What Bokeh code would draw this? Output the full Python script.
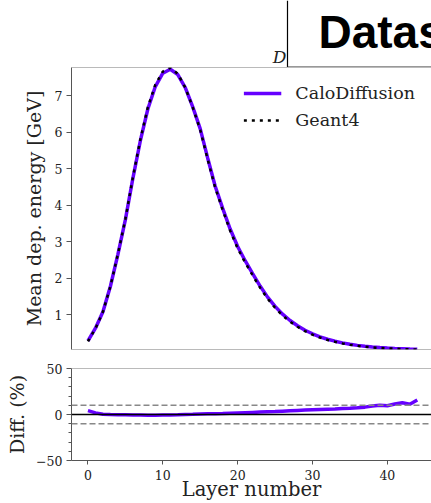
from bokeh.plotting import figure
from bokeh.layouts import column
from bokeh.models import (Range1d, FixedTicker, Span, Legend, LegendItem,
                          ColumnDataSource)
from bokeh.embed import file_html
from bokeh.resources import INLINE
from bokeh.core.properties import value

# ---------------- data ----------------
layers = list(range(45))
geant4 = [0.27, 0.62, 1.08, 1.78, 2.66, 3.62, 4.76, 5.80, 6.68, 7.30,
          7.66, 7.76, 7.60, 7.22, 6.68, 6.06, 5.25, 4.48, 3.87, 3.30,
          2.82, 2.43, 2.08, 1.74, 1.44, 1.19, 0.98, 0.81, 0.67, 0.55,
          0.455, 0.375, 0.31, 0.26, 0.215, 0.18, 0.15, 0.125, 0.106, 0.091,
          0.079, 0.069, 0.061, 0.054, 0.048]
calodiffusion = [0.281, 0.632, 1.083, 1.78, 2.655, 3.606, 4.736, 5.765, 6.633, 7.249,
                 7.614, 7.721, 7.577, 7.22, 6.693, 6.090, 5.287, 4.520, 3.913, 3.346,
                 2.868, 2.479, 2.128, 1.785, 1.482, 1.228, 1.015, 0.842, 0.699, 0.576,
                 0.479, 0.396, 0.328, 0.276, 0.229, 0.192, 0.161, 0.135, 0.116, 0.100,
                 0.087, 0.077, 0.069, 0.060, 0.056]
diff_pct = [4.2, 1.8, 0.2, -0.1, -0.3, -0.4, -0.5, -0.6, -0.7, -0.7,
            -0.6, -0.5, -0.3, 0.0, 0.2, 0.5, 0.7, 0.9, 1.1, 1.4,
            1.7, 2.0, 2.3, 2.6, 2.9, 3.2, 3.6, 4.0, 4.4, 4.8,
            5.2, 5.5, 5.8, 6.1, 6.5, 6.9, 7.4, 8.0, 9.3, 10.0,
            9.5, 11.4, 12.8, 11.2, 15.8]
energy_ticks = [1, 2, 3, 4, 5, 6, 7]
diff_ticks = [-50, 0, 50]
diff_minor = [-40, -30, -20, -10, 10, 20, 30, 40]
layer_ticks = [0, 10, 20, 30, 40]
band = 10

PURPLE = "#6600ff"
SERIF = "DejaVu Serif"
AXC = "#555555"
TXT = "#222222"
W = 431
LEFT = 71

src = ColumnDataSource(dict(layer=layers, g=geant4, c=calodiffusion, d=diff_pct))

# ---------------- header (data coords == pixel coords) ----------------
hdr = figure(width=W, height=67, x_range=Range1d(LEFT, W), y_range=Range1d(67, 0),
             output_backend="svg", toolbar_location=None,
             min_border_left=LEFT, min_border_right=0, min_border_top=0, min_border_bottom=0)
hdr.axis.visible = False
hdr.grid.visible = False
hdr.outline_line_color = None
hdr.segment(x0=[287], y0=[0], x1=[287], y1=[67], line_color="black", line_width=1.2)
hdr.segment(x0=[287], y0=[66.5], x1=[W], y1=[66.5], line_color="#333333", line_width=1.2)
hdr.text(x=[318], y=[31.5], text=["Dataset"], text_font=value("Liberation Sans"),
         text_font_style="bold", text_font_size="46px", text_baseline="alphabetic",
         text_color="black")
hdr.text(x=[286], y=[56.5], text=["D"], text_font=value(SERIF), text_font_style="italic",
         text_font_size="17px", text_align="right", text_baseline="alphabetic",
         text_color=TXT)

# ---------------- top panel ----------------
top = figure(width=W, height=291, x_range=Range1d(-2.2, 45.9),
             y_range=Range1d(min(geant4), 7.77),
             output_backend="svg", toolbar_location=None,
             min_border_left=LEFT, min_border_right=0, min_border_top=0, min_border_bottom=9)
top.xaxis.visible = False
top.grid.visible = False
top.outline_line_color = None
r_c = top.line("layer", "c", source=src, line_color=PURPLE, line_width=3.5)
r_g = top.line("layer", "g", source=src, line_color="black", line_width=2.5,
               line_dash="3 5")
top.add_layout(Span(location=7.77, dimension="width", line_color="#777777", line_width=1))
top.add_layout(Span(location=min(geant4), dimension="width", line_color="#777777", line_width=1))

ya = top.yaxis[0]
ya.ticker = FixedTicker(ticks=energy_ticks)
ya.axis_label = "Mean dep. energy [GeV]"
ya.axis_label_text_font = SERIF
ya.axis_label_text_font_style = "normal"
ya.axis_label_text_font_size = "19px"
ya.axis_label_text_color = TXT
ya.axis_label_standoff = 7
ya.major_label_text_font = SERIF
ya.major_label_text_font_size = "12.5px"
ya.major_label_text_color = TXT
ya.major_label_standoff = 4
ya.major_tick_out = 5
ya.major_tick_in = 0
ya.minor_tick_out = 0
ya.minor_tick_in = 0
ya.axis_line_color = AXC
ya.major_tick_line_color = AXC

leg = Legend(items=[LegendItem(label="CaloDiffusion", renderers=[r_c]),
                    LegendItem(label="Geant4", renderers=[r_g])],
             location="top_right", margin=16, padding=10, spacing=7,
             glyph_width=38, glyph_height=16, label_height=16, label_standoff=14,
             label_text_font=SERIF, label_text_font_size="17.5px",
             label_text_color=TXT, border_line_color=None,
             background_fill_alpha=0.0)
top.add_layout(leg)

# ---------------- bottom panel ----------------
bot = figure(width=W, height=145, x_range=top.x_range, y_range=Range1d(-50, 50),
             output_backend="svg", toolbar_location=None,
             min_border_left=LEFT, min_border_right=0, min_border_top=10, min_border_bottom=41)
bot.grid.visible = False
bot.outline_line_color = None
bot.add_layout(Span(location=50, dimension="width", line_color="#777777", line_width=1))
bot.add_layout(Span(location=0, dimension="width", line_color="black", line_width=1.5))
bot.add_layout(Span(location=band, dimension="width", line_color="#888888",
                    line_width=1.5, line_dash="6 3"))
bot.add_layout(Span(location=-band, dimension="width", line_color="#888888",
                    line_width=1.5, line_dash="6 3"))
bot.line("layer", "d", source=src, line_color=PURPLE, line_width=3.5)

by = bot.yaxis[0]
by.ticker = FixedTicker(ticks=diff_ticks, minor_ticks=diff_minor)
by.major_label_overrides = {-50: "\u221250"}
by.axis_label = "Diff. (%)"
by.axis_label_text_font = SERIF
by.axis_label_text_font_style = "normal"
by.axis_label_text_font_size = "19px"
by.axis_label_text_color = TXT
by.axis_label_standoff = 5
by.major_label_text_font = SERIF
by.major_label_text_font_size = "12.5px"
by.major_label_text_color = TXT
by.major_label_standoff = 4
by.major_tick_out = 5
by.major_tick_in = 0
by.minor_tick_out = 3
by.minor_tick_in = 0
by.axis_line_color = AXC
by.major_tick_line_color = AXC
by.minor_tick_line_color = AXC

bx = bot.xaxis[0]
bx.ticker = FixedTicker(ticks=layer_ticks)
bx.axis_label = "Layer number"
bx.axis_label_text_font = SERIF
bx.axis_label_text_font_style = "normal"
bx.axis_label_text_font_size = "19.5px"
bx.axis_label_text_color = TXT
bx.axis_label_standoff = -5
bx.major_label_text_font = SERIF
bx.major_label_text_font_size = "12.5px"
bx.major_label_text_color = TXT
bx.major_label_standoff = 5
bx.major_tick_out = 4
bx.major_tick_in = 0
bx.minor_tick_out = 0
bx.minor_tick_in = 0
bx.axis_line_color = AXC
bx.major_tick_line_color = AXC

layout = column(hdr, top, bot, spacing=0)
open("out.html", "w").write(file_html(layout, INLINE))
